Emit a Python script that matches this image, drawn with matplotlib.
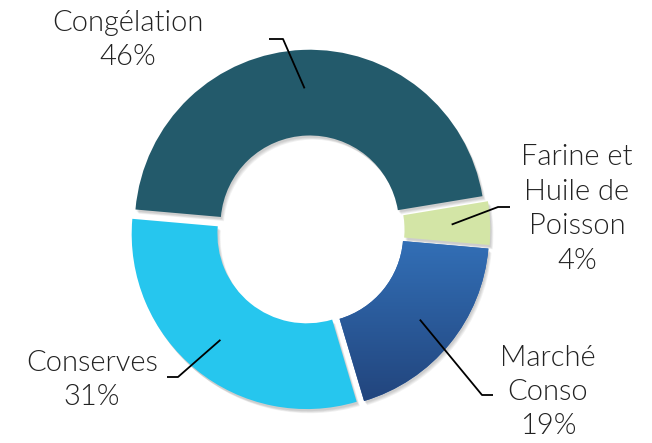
import numpy as np
import matplotlib.pyplot as plt
from matplotlib.colors import LinearSegmentedColormap

# data
labels = ["Congélation", "Farine et\nHuile de\nPoisson", "Marché\nConso", "Conserves"]
shares = [46, 4, 19, 31]
colors = ["#235A6B", "#D3E5A6", "#2D63A9", "#26C6EE"]

# layout (pixels)
W, H = 652, 443
R = 175
CX, CY = 310, 230
START = 175.0
EXPLODE = 0.03
HOLE = 0.49

label_pos = [(128, 40), (577, 209), (548, 392), (92, 380)]
elbows = [[(283, 39), (269, 39)],
          [(498, 207), (510, 207)],
          [(482, 395), (493, 395)],
          [(178, 377), (167, 377)]]


def px(x, y):
    return (x - CX) / R, (CY - y) / R


fig = plt.figure(figsize=(W / 100, H / 100), dpi=100)
ax = fig.add_axes([0, 0, 1, 1])

# soft drop shadow
for k in range(4):
    ax.pie(shares, startangle=START, counterclock=False, explode=[EXPLODE] * 4,
           colors=["#000000"] * 4, center=(0.006 + 0.004 * k, -0.012 - 0.004 * k),
           wedgeprops=dict(width=HOLE, linewidth=0, alpha=0.05))

wedges, _ = ax.pie(shares, startangle=START, counterclock=False,
                   explode=[EXPLODE] * 4, colors=colors,
                   wedgeprops=dict(width=HOLE, linewidth=0))

# vertical gradient on the blue slice
w = wedges[2]
v = w.get_path().vertices
x0, x1 = v[:, 0].min(), v[:, 0].max()
y0, y1 = v[:, 1].min(), v[:, 1].max()
cmap = LinearSegmentedColormap.from_list("blue", ["#22457D", "#3371B9"])
grad = np.linspace(0, 1, 256).reshape(-1, 1)
im = ax.imshow(grad, extent=[x0, x1, y0, y1], origin="lower", cmap=cmap,
               aspect="auto", zorder=w.get_zorder() + 0.1)
im.set_clip_path(w)

# labels and leader lines
total = sum(shares)
a = START
for i, (lab, val) in enumerate(zip(labels, shares)):
    span = 360 * val / total
    mid = np.radians(a - span / 2)
    a -= span
    ox, oy = EXPLODE * np.cos(mid), EXPLODE * np.sin(mid)
    sx, sy = ox + 0.78 * np.cos(mid), oy + 0.78 * np.sin(mid)
    pts = [(sx, sy)] + [px(*p) for p in elbows[i]]
    ax.plot([p[0] for p in pts], [p[1] for p in pts], color="black", lw=1.3,
            solid_capstyle="butt", zorder=5)
    tx, ty = px(*label_pos[i])
    ax.text(tx, ty, f"{lab}\n{val}%", ha="center", va="center",
            fontsize=21, family="Lato", weight=300, color="#222222",
            linespacing=1.4, zorder=6)

ax.set_xlim(-CX / R, (W - CX) / R)
ax.set_ylim(-(H - CY) / R, CY / R)
ax.set_aspect("equal")
ax.axis("off")

fig.savefig("out.png", dpi=100, facecolor="white")
